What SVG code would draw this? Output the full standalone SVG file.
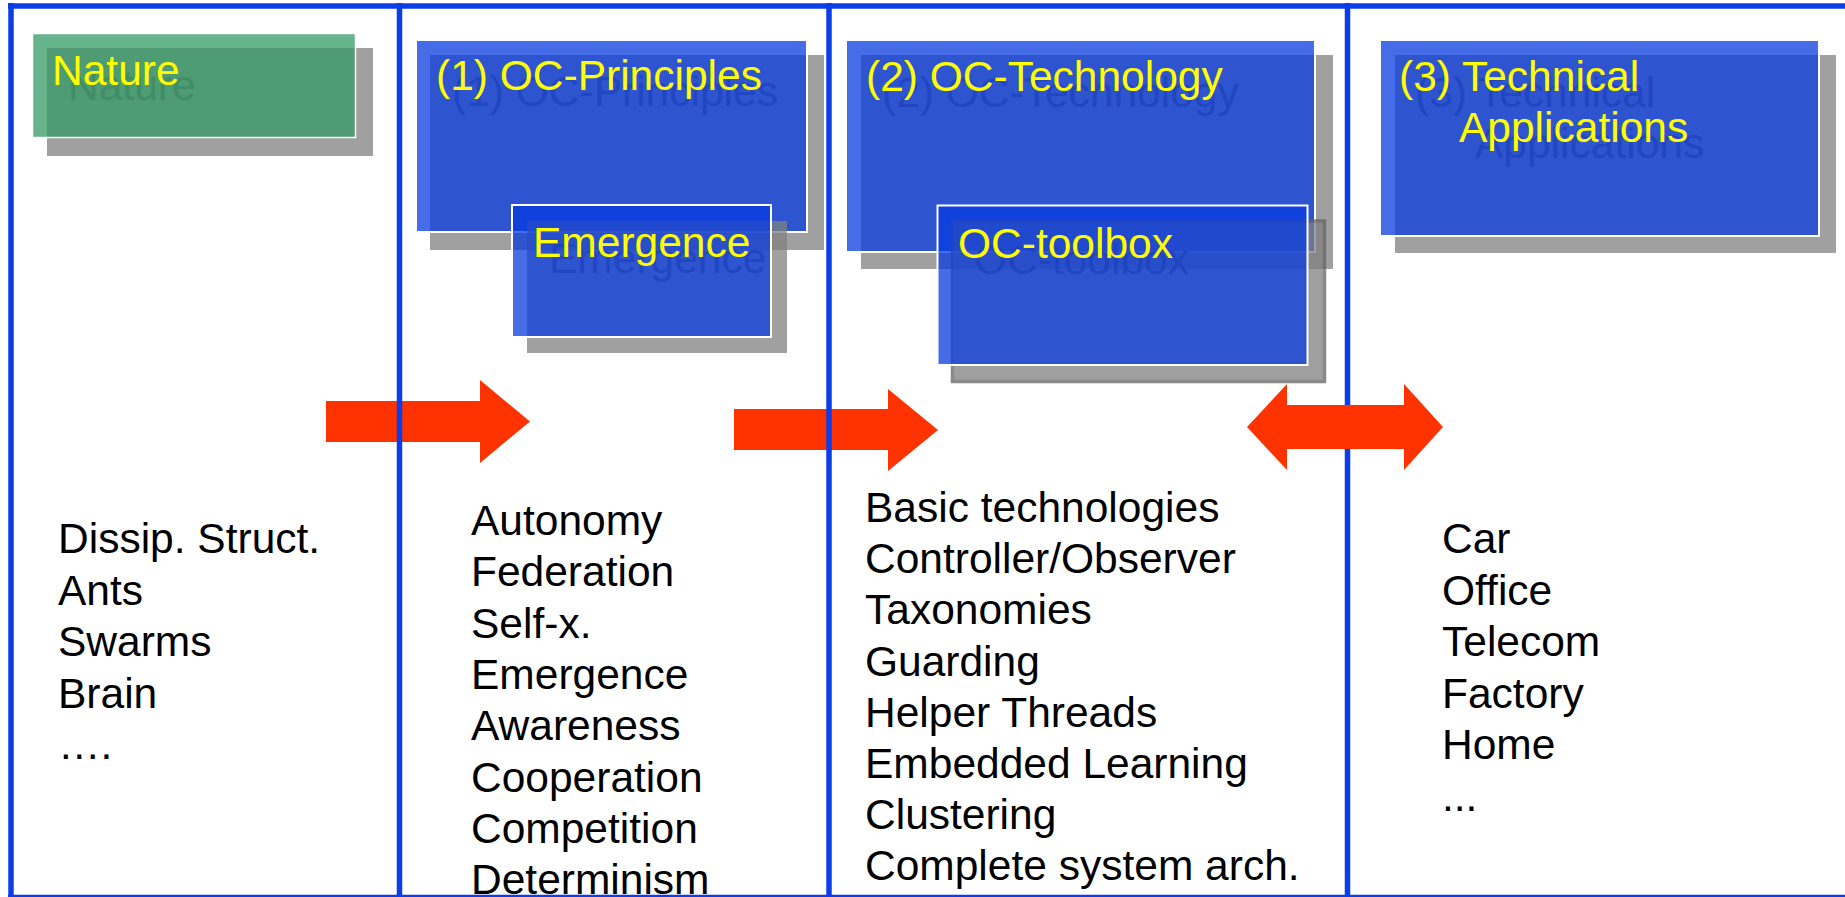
<svg xmlns="http://www.w3.org/2000/svg" width="1845" height="897" viewBox="0 0 1845 897">
<style>
.shadow{fill:#808080;opacity:0.75}
.ghost{fill:#555555;font-family:"Liberation Sans",Arial,sans-serif;font-size:42.5px}
.blue{fill:#083be0;fill-opacity:0.75;stroke:#ffffff;stroke-width:2}
.green{fill:#339966;fill-opacity:0.75;stroke:#ffffff;stroke-width:1.5}
.title{fill:#ffff00;font-family:"Liberation Sans",Arial,sans-serif;font-size:42.5px}
.item{fill:#000000;font-family:"Liberation Sans",Arial,sans-serif;font-size:42.5px}
.frame{stroke:#0b3de8;stroke-width:5.5;fill:none}
.arrow{fill:#ff3300}
</style>
<rect x="0" y="0" width="1845" height="897" fill="#ffffff"/>

<g id="connectors-under">
<polygon class="arrow" points="326,401 480,401 480,380 530,421.5 480,463 480,442 326,442"/>
<polygon class="arrow" points="734,409 888,409 888,389 938,430 888,471 888,450 734,450"/>
</g>

<g id="frame">
<line class="frame" x1="8" y1="6" x2="1845" y2="6"/>
<line class="frame" x1="11" y1="3" x2="11" y2="897"/>
<line class="frame" x1="8" y1="897.5" x2="1845" y2="897.5"/>
<line class="frame" x1="399.5" y1="3" x2="399.5" y2="897" stroke-width="5"/>
<line class="frame" x1="829" y1="3" x2="829" y2="897" stroke-width="5"/>
<line class="frame" x1="1347.5" y1="3" x2="1347.5" y2="897" stroke-width="5.5"/>
</g>

<g id="nature">
<rect class="shadow" x="47" y="48" width="326" height="108"/>
<text class="ghost" x="68" y="100" opacity="0.75">Nature</text>
<rect class="green" x="32.5" y="33.5" width="323" height="104"/>
<text class="title" x="52" y="85">Nature</text>
</g>

<g id="oc-principles">
<rect class="shadow" x="430" y="55" width="394" height="195"/>
<text class="ghost" x="452" y="106" opacity="0.75">(1) OC-Principles</text>
<rect class="blue" x="416" y="40" width="391" height="192"/>
<text class="title" x="436" y="90">(1) OC-Principles</text>
</g>

<g id="emergence">
<rect class="shadow" x="527" y="221" width="260" height="132"/>
<text class="ghost" x="549" y="273" opacity="0.75">Emergence</text>
<rect class="blue" x="512" y="205" width="259" height="132"/>
<text class="title" x="533" y="257">Emergence</text>
</g>

<g id="oc-technology">
<rect class="shadow" x="861" y="55" width="472" height="214"/>
<text class="ghost" x="882" y="107" opacity="0.75">(2) OC-Technology</text>
<rect class="blue" x="846" y="40" width="469" height="212"/>
<text class="title" x="866" y="91">(2) OC-Technology</text>
</g>

<g id="oc-toolbox">
<rect class="shadow" x="952.5" y="221" width="372" height="160.5" stroke="#646464" stroke-width="3.5"/>
<text class="ghost" x="974" y="274" opacity="0.75">OC-toolbox</text>
<rect class="blue" x="937.5" y="205.5" width="370" height="159.5" stroke-width="3.5"/>
<text class="title" x="958" y="258">OC-toolbox</text>
</g>

<g id="technical-applications">
<rect class="shadow" x="1395" y="55" width="441" height="198"/>
<text class="ghost" x="1415" y="107" opacity="0.75">(3) Technical</text>
<text class="ghost" x="1475" y="158" opacity="0.75">Applications</text>
<rect class="blue" x="1380" y="40" width="439" height="196"/>
<text class="title" x="1399" y="91">(3) Technical</text>
<text class="title" x="1459" y="142">Applications</text>
</g>

<g id="list-nature">
<text class="item" x="58" y="553">Dissip. Struct.</text>
<text class="item" x="58" y="604.5">Ants</text>
<text class="item" x="58" y="656">Swarms</text>
<text class="item" x="58" y="707.5">Brain</text>
<text class="item" x="58" y="759">….</text>
</g>

<g id="list-principles">
<text class="item" x="471" y="535">Autonomy</text>
<text class="item" x="471" y="586.3">Federation</text>
<text class="item" x="471" y="637.6">Self-x.</text>
<text class="item" x="471" y="688.9">Emergence</text>
<text class="item" x="471" y="740.2">Awareness</text>
<text class="item" x="471" y="791.5">Cooperation</text>
<text class="item" x="471" y="842.8">Competition</text>
<text class="item" x="471" y="894.1">Determinism</text>
</g>

<g id="list-technology">
<text class="item" x="865" y="522">Basic technologies</text>
<text class="item" x="865" y="573.2">Controller/Observer</text>
<text class="item" x="865" y="624.4">Taxonomies</text>
<text class="item" x="865" y="675.6">Guarding</text>
<text class="item" x="865" y="726.8">Helper Threads</text>
<text class="item" x="865" y="778">Embedded Learning</text>
<text class="item" x="865" y="829.2">Clustering</text>
<text class="item" x="865" y="880.4">Complete system arch.</text>
</g>

<g id="list-applications">
<text class="item" x="1442" y="553">Car</text>
<text class="item" x="1442" y="604.5">Office</text>
<text class="item" x="1442" y="656">Telecom</text>
<text class="item" x="1442" y="707.5">Factory</text>
<text class="item" x="1442" y="759">Home</text>
<text class="item" x="1442" y="810.5">...</text>
</g>

<g id="connectors">
<polygon class="arrow" points="1247,427 1287,384 1287,405 1404,405 1404,384 1443,427 1404,470 1404,449 1287,449 1287,470"/>
</g>
</svg>
